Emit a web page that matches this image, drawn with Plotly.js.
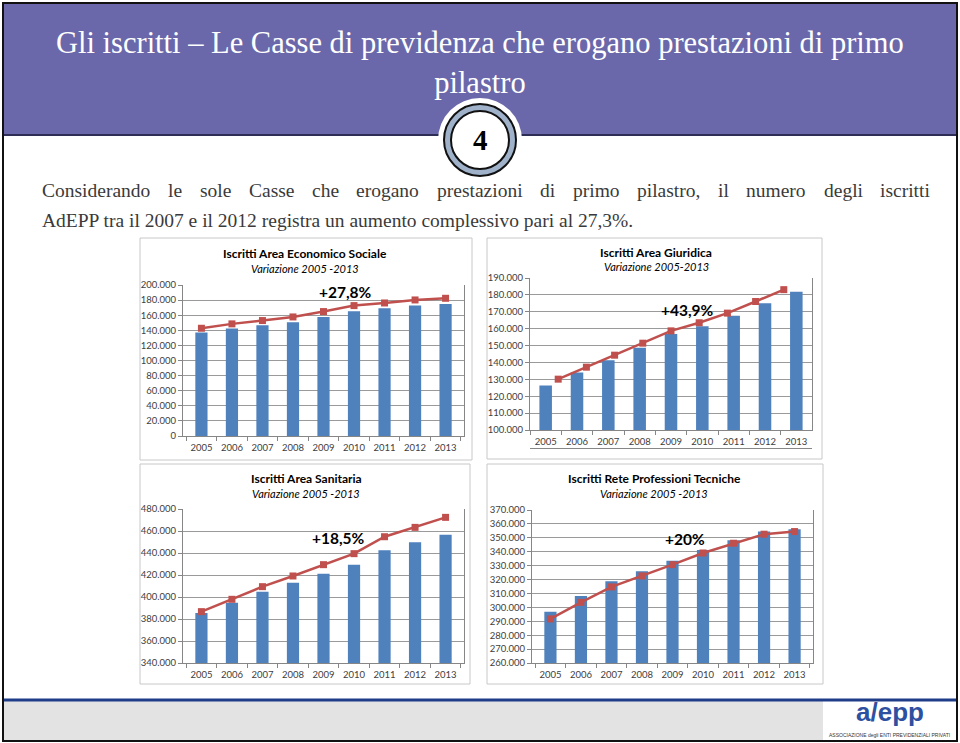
<!DOCTYPE html>
<html>
<head>
<meta charset="utf-8">
<script src="https://cdn.plot.ly/plotly-3.0.1.min.js"></script>
<style>
  html, body { margin: 0; padding: 0; background: #ffffff; }
  #chart { width: 960px; height: 743px; }
</style>
</head>
<body>
<div id="chart"></div>
<script>
// ---------- data ----------
const years = ['2005', '2006', '2007', '2008', '2009', '2010', '2011', '2012', '2013'];
const yearNums = years.map(Number);

const ecoBars = [137000, 142300, 146700, 150700, 157700, 165200, 169200, 172700, 174900];
const ecoLine = [142700, 148500, 152900, 157700, 164800, 172700, 176200, 180200, 182400];

const giuBars = [126300, 134000, 141300, 148700, 156800, 161500, 167600, 175000, 181900];
const giuLine = [130100, 137200, 144300, 151400, 158700, 163500, 169200, 176100, 183100];

const sanBars = [385400, 394800, 404800, 413000, 421200, 429400, 442400, 449700, 456700];
const sanLine = [386700, 397900, 409400, 419100, 429400, 439400, 454800, 463300, 472400];

const tecBars = [296900, 308200, 318800, 325900, 333600, 341300, 348200, 354500, 356200];
const tecLine = [291700, 303600, 314700, 322600, 330700, 339100, 346100, 352600, 354500];

const chartTitles = ['Iscritti Area Economico Sociale', 'Iscritti Area Giuridica', 'Iscritti Area Sanitaria', 'Iscritti Rete Professioni Tecniche'];
const chartSubtitles = ['Variazione 2005 -2013', 'Variazione 2005-2013', 'Variazione 2005 -2013', 'Variazione 2005 -2013'];
const changeLabels = ['+27,8%', '+43,9%', '+18,5%', '+20%'];

const pageTitle = 'Gli iscritti – Le Casse di previdenza che erogano prestazioni di primo<br>pilastro';
const bodyLine1 = 'Considerando le sole Casse che erogano prestazioni di primo pilastro, il numero degli iscritti';
const bodyLine2 = 'AdEPP tra il 2007 e il 2012 registra un aumento complessivo pari al 27,3%.';

// ---------- helpers (pixel -> paper) ----------
const W = 960, H = 743;
const fx = p => p / W;
const fy = p => 1 - p / H;

const BLUE = '#4F81BD', RED = '#C0504D';
const chartFont = 'Lato, "Open Sans", sans-serif';
const tickFont = { family: chartFont, size: 9.5, color: '#404040' };

function barTrace(x, y, xa, ya) {
  return { type: 'bar', x: x, y: y, xaxis: xa, yaxis: ya, marker: { color: BLUE }, hoverinfo: 'x+y' };
}
function lineTrace(x, y, xa, ya) {
  return { type: 'scatter', mode: 'lines+markers', x: x, y: y, xaxis: xa, yaxis: ya,
    line: { color: RED, width: 2.5 }, marker: { symbol: 'square', size: 7, color: RED } };
}

const traces = [
  barTrace(years, ecoBars, 'x', 'y'),  lineTrace(years, ecoLine, 'x', 'y'),
  barTrace(years, giuBars, 'x2', 'y2'), lineTrace(yearNums, giuLine, 'x5', 'y2'),
  barTrace(years, sanBars, 'x3', 'y3'), lineTrace(years, sanLine, 'x3', 'y3'),
  barTrace(years, tecBars, 'x4', 'y4'), lineTrace(years, tecLine, 'x4', 'y4')
];

function xAxis(d0, d1, anchor) {
  return { domain: [fx(d0), fx(d1)], anchor: anchor, type: 'category', showline: true, linecolor: '#868686',
    ticks: 'outside', tickson: 'boundaries', ticklen: 4, tickcolor: '#868686', tickfont: tickFont,
    ticklabelstandoff: 3, tickangle: 0, showgrid: false, fixedrange: true };
}
function yAxis(t, b, anchor, r0, r1, dt) {
  return { domain: [fy(b), fy(t)], anchor: anchor, range: [r0, r1], dtick: dt, tickformat: ',d',
    showline: true, mirror: true, linecolor: '#868686', ticks: 'outside', ticklen: 4, tickcolor: '#868686',
    gridcolor: '#9A9A9A', gridwidth: 1, zeroline: false, tickfont: tickFont, fixedrange: true };
}

// ---------- decorations ----------
function circ(cx, cy, r, fill, lineColor, lw) {
  return { type: 'circle', xref: 'paper', yref: 'paper', x0: fx(cx - r), x1: fx(cx + r), y0: fy(cy + r), y1: fy(cy - r),
    fillcolor: fill, line: { color: lineColor, width: lw } };
}
function rect(x0, y0, x1, y1, fill, lineColor, lw) {
  return { type: 'rect', xref: 'paper', yref: 'paper', x0: fx(x0), x1: fx(x1), y0: fy(y1), y1: fy(y0),
    fillcolor: fill, line: { color: lineColor, width: lw } };
}
function hline(x0, x1, y, color, lw) {
  return { type: 'line', xref: 'paper', yref: 'paper', x0: fx(x0), x1: fx(x1), y0: fy(y), y1: fy(y), line: { color: color, width: lw } };
}

const shapes = [
  rect(4, 4, 956, 135, '#6A68AA', 'rgba(0,0,0,0)', 0),
  hline(4, 956, 135, '#2E2D55', 2),
  circ(480, 140, 42, '#ffffff', 'rgba(0,0,0,0)', 0),
  circ(480, 140, 36, '#9FB2CA', '#111111', 2),
  circ(480, 140, 29, '#ffffff', '#111111', 2),
  rect(4, 701, 823, 740, '#E3E3E3', 'rgba(0,0,0,0)', 0),
  hline(4, 956, 700, '#1F3C88', 3),
  rect(3, 3, 957, 741, 'rgba(0,0,0,0)', '#111111', 2),
  rect(140, 238, 472, 460, 'rgba(0,0,0,0)', '#C8C8C8', 1),
  rect(487, 238, 822, 459, 'rgba(0,0,0,0)', '#C8C8C8', 1),
  rect(140, 464, 470, 684, 'rgba(0,0,0,0)', '#C8C8C8', 1),
  rect(487, 464, 823, 684, 'rgba(0,0,0,0)', '#C8C8C8', 1)
];

function ann(text, x, y, font, xanchor) {
  return { text: text, xref: 'paper', yref: 'paper', x: fx(x), y: fy(y), showarrow: false,
    xanchor: xanchor || 'center', yanchor: 'middle', font: font };
}
const serif = '"Liberation Serif", "DejaVu Serif", serif';
const bodyFont = { family: serif, size: 19.5, color: '#3A3A3A' };
const titleCenters = [[305, 253], [656, 252], [306, 478], [654, 478]];
const changePos = [[345, 292], [687, 310], [338, 538], [685, 539]];

const annotations = [
  ann(pageTitle, 480, 63, { family: serif, size: 30.5, color: '#ffffff' }),
  ann('<b>4</b>', 480, 140, { family: serif, size: 29, color: '#000000' }),
  ann(bodyLine2, 40, 220, bodyFont, 'left'),
  ann('<b>a/epp</b>', 890, 712, { family: '"Liberation Sans", Arial, sans-serif', size: 26, color: '#2E50A0' }),
  ann('ASSOCIAZIONE degli ENTI PREVIDENZIALI PRIVATI', 889, 735, { family: '"Liberation Sans", Arial, sans-serif', size: 5, color: '#333333' })
];

// justified first body line: words spread between x=40 and x=928
(function () {
  const words = bodyLine1.split(' ');
  const ctx = document.createElement('canvas').getContext('2d');
  ctx.font = bodyFont.size + 'px "Liberation Serif"';
  const widths = words.map(w => ctx.measureText(w).width);
  const total = widths.reduce((a, b) => a + b, 0);
  const gap = (928 - 40 - total) / (words.length - 1);
  let x = 40;
  words.forEach((w, i) => {
    annotations.push(ann(w, x, 190, bodyFont, 'left'));
    x += widths[i] + gap;
  });
})();

for (let i = 0; i < 4; i++) {
  annotations.push(ann('<b>' + chartTitles[i] + '</b>', titleCenters[i][0], titleCenters[i][1], { family: chartFont, size: 12, color: '#000000' }));
  annotations.push(ann('<i>' + chartSubtitles[i] + '</i>', titleCenters[i][0], titleCenters[i][1] + 15, { family: chartFont, size: 11, color: '#000000' }));
  annotations.push(ann('<b>' + changeLabels[i] + '</b>', changePos[i][0], changePos[i][1], { family: chartFont, size: 15.5, color: '#000000' }));
}

const layout = {
  width: W, height: H,
  margin: { l: 0, r: 0, t: 0, b: 0 },
  paper_bgcolor: '#ffffff', plot_bgcolor: 'rgba(0,0,0,0)',
  showlegend: false,
  separators: ',.',
  bargap: 0.6,
  xaxis: xAxis(183, 464, 'y'),
  yaxis: yAxis(285, 436, 'x', 0, 200000, 20000),
  xaxis2: xAxis(530, 812, 'y2'),
  yaxis2: yAxis(278, 430, 'x2', 100000, 190000, 10000),
  xaxis3: xAxis(183, 464, 'y3'),
  yaxis3: yAxis(509, 663, 'x3', 340000, 480000, 20000),
  xaxis4: xAxis(532, 813, 'y4'),
  yaxis4: yAxis(510, 663, 'x4', 260000, 370000, 10000),
  xaxis5: { overlaying: 'x2', anchor: 'free', position: fy(448), range: [2004, 2014], showline: true, linecolor: '#868686',
    showticklabels: false, ticks: '', showgrid: false, zeroline: false, fixedrange: true },
  shapes: shapes,
  annotations: annotations
};

Plotly.newPlot('chart', traces, layout, { displayModeBar: false, staticPlot: true });
</script>
</body>
</html>
